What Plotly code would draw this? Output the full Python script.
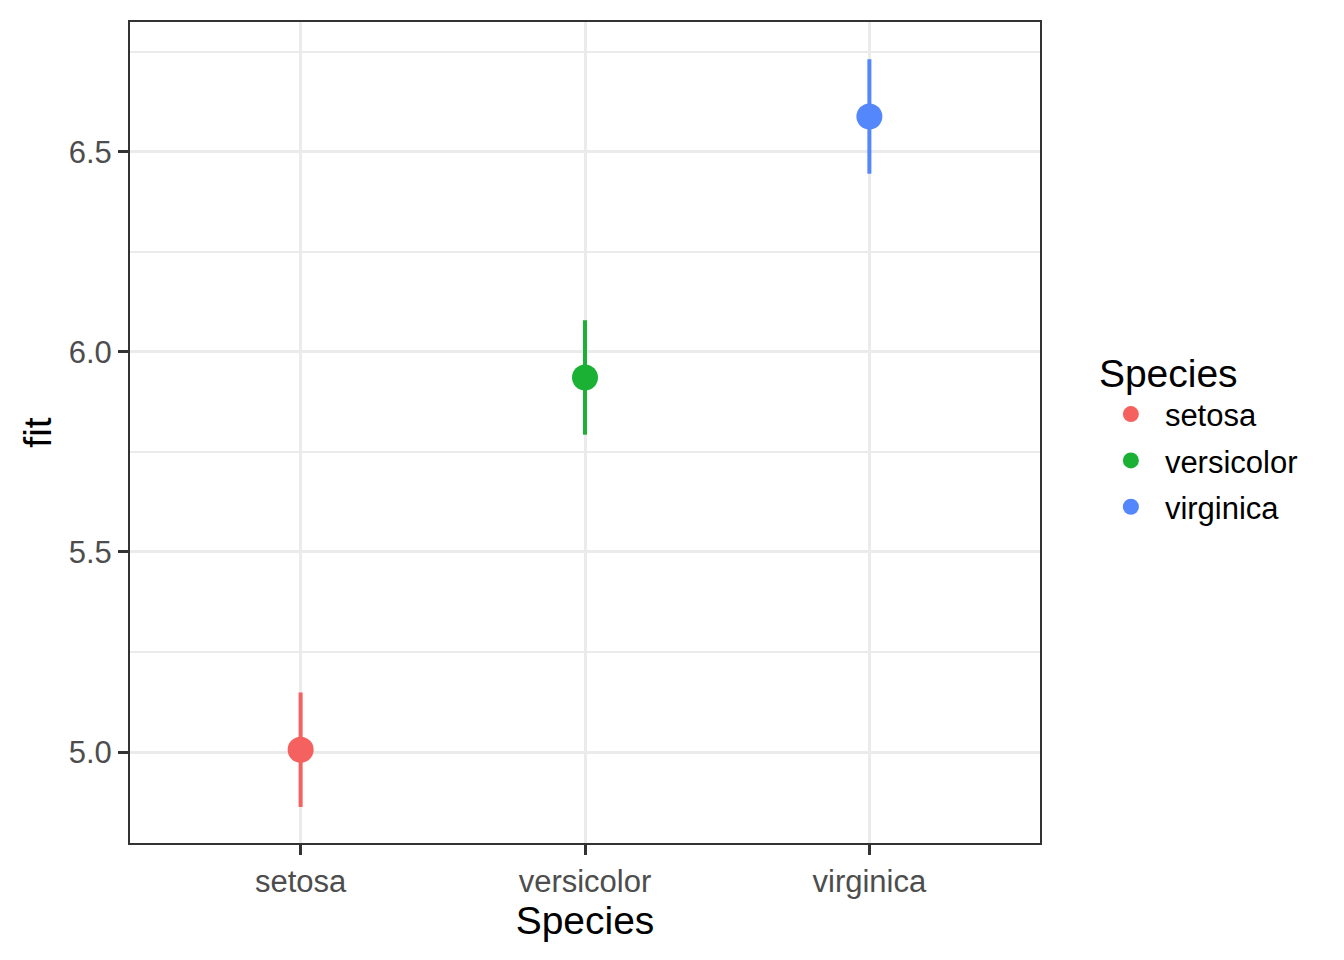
import plotly.graph_objects as go

# fitted means with confidence limits
species = ["setosa", "versicolor", "virginica"]
fit = [5.006, 5.936, 6.588]
lwr = [4.863, 5.793, 6.445]
upr = [5.149, 6.079, 6.731]
colors = ["#F5615E", "#1BB135", "#5486FC"]

fig = go.Figure()
for sp, f, lo, hi, col in zip(species, fit, lwr, upr, colors):
    fig.add_trace(go.Scatter(
        x=[sp], y=[f],
        mode="markers",
        name=sp,
        legendgroup=sp,
        marker=dict(color=col, size=26),
        error_y=dict(type="data", symmetric=False,
                     array=[hi - f], arrayminus=[f - lo],
                     color=col, thickness=4, width=0),
    ))

font = "Liberation Sans, Arial, sans-serif"

# page body has an 8px margin, so the figure is a bit smaller than the window
fig.update_layout(
    width=1328, height=944,
    margin=dict(l=122, r=296, t=12, b=109),
    plot_bgcolor="white",
    paper_bgcolor="white",
    font=dict(family=font, color="black"),
    legend=dict(
        title=dict(text="Species", font=dict(size=39, color="black")),
        font=dict(size=31, color="black"),
        x=1.0625, xanchor="left",
        y=0.6166, yanchor="top",
        tracegroupgap=3,
        itemwidth=58,
    ),
)

fig.update_xaxes(
    categoryorder="array", categoryarray=species,
    range=[-0.6, 2.6],
    showgrid=True, gridcolor="#EBEBEB", gridwidth=3,
    showline=True, linecolor="#333333", linewidth=2, mirror=True,
    ticks="outside", ticklen=10, tickwidth=2.5, tickcolor="#333333",
    tickfont=dict(size=31, color="#4D4D4D"),
    title=dict(text="Species", font=dict(size=39, color="black"), standoff=2),
    zeroline=False,
)
fig.update_yaxes(
    range=[4.773, 6.824],
    tick0=5, dtick=0.5, tickformat=".1f",
    showgrid=True, gridcolor="#EBEBEB", gridwidth=3,
    minor=dict(dtick=0.25, tick0=5, showgrid=True, gridcolor="#EBEBEB", gridwidth=1.5),
    showline=True, linecolor="#333333", linewidth=2, mirror=True,
    ticks="outside", ticklen=10, tickwidth=2.5, tickcolor="#333333",
    tickfont=dict(size=31, color="#4D4D4D"),
    title=dict(text="fit", font=dict(size=39, color="black"), standoff=5),
    zeroline=False,
)

fig.write_html("out.html")
